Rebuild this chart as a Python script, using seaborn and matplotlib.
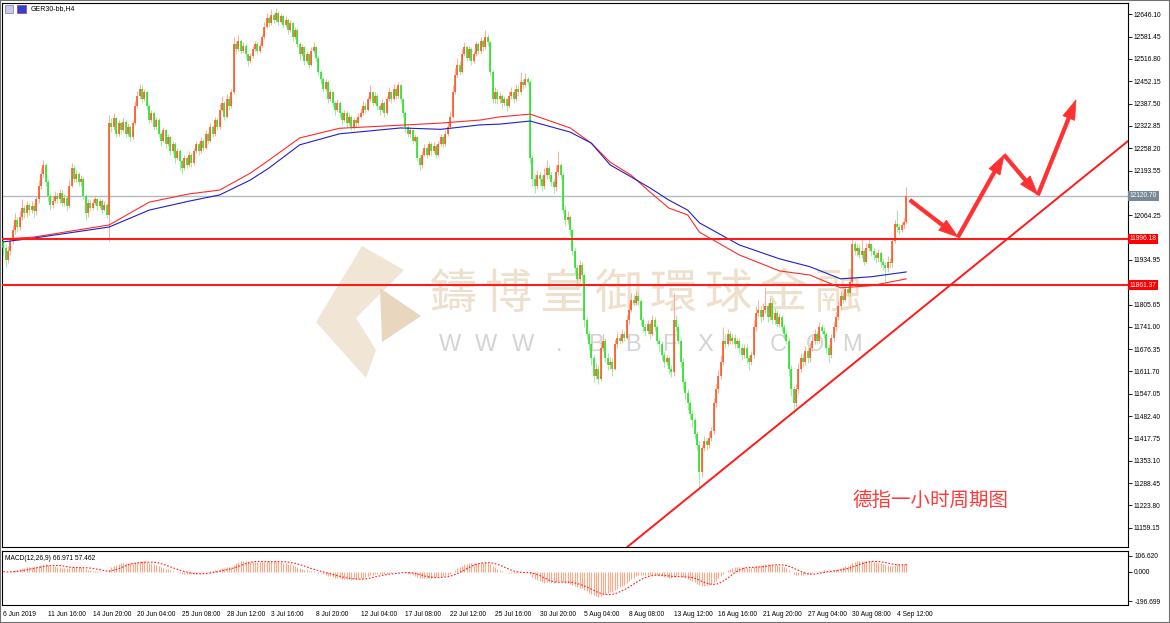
import matplotlib
matplotlib.use('Agg')
import matplotlib.pyplot as plt
import matplotlib.transforms as mtransforms
from matplotlib.patches import Polygon, Rectangle
import numpy as np
import pandas as pd
import seaborn as sns

# ---- GER30 H4 candles, one row per date label (19 bars) ----
first_open = 11990
closes = [
    11970, 11935, 11960, 11990, 12020, 12050, 12030, 12060, 12085, 12070, 12095, 12080, 12090, 12075, 12110, 12150, 12185, 12210, 12160,
    12120, 12095, 12105, 12120, 12110, 12130, 12100, 12115, 12090, 12150, 12200, 12170, 12185, 12160, 12170, 12120, 12070, 12100, 12085,
    12100, 12110, 12090, 12105, 12080, 12095, 12065, 12330, 12320, 12345, 12300, 12330, 12310, 12335, 12300, 12320, 12290, 12330, 12380,
    12410, 12430, 12400, 12420, 12380, 12340, 12360, 12320, 12340, 12300, 12280, 12310, 12270, 12290, 12250, 12270, 12230, 12250, 12220,
    12200, 12230, 12210, 12240, 12215, 12250, 12270, 12250, 12280, 12260, 12300, 12280, 12320, 12300, 12340, 12320, 12370, 12390, 12350,
    12400, 12380, 12420, 12560, 12545, 12570, 12540, 12555, 12530, 12510, 12525, 12545, 12560, 12540, 12555, 12580, 12610, 12635, 12620,
    12645, 12630, 12650, 12625, 12640, 12615, 12630, 12600, 12620, 12580, 12600, 12560, 12530, 12550, 12510, 12530, 12500, 12540, 12550,
    12520, 12480, 12460, 12430, 12450, 12400, 12420, 12390, 12370, 12390, 12360, 12340, 12360, 12330, 12350, 12320, 12340, 12330, 12350,
    12360, 12380, 12370, 12400, 12420, 12390, 12410, 12380, 12370, 12390, 12360, 12400, 12420, 12400, 12430, 12410, 12440, 12400, 12360,
    12320, 12300, 12310, 12280, 12290, 12230, 12210, 12240, 12260, 12240, 12270, 12250, 12265, 12240, 12270, 12290, 12270, 12300, 12320,
    12350, 12420, 12470, 12500, 12480, 12530, 12550, 12520, 12545, 12510, 12530, 12560, 12540, 12570, 12550, 12580, 12565, 12480, 12400,
    12420, 12400, 12410, 12390, 12400, 12380, 12410, 12420, 12400, 12430, 12420, 12450, 12440, 12460, 12450, 12230, 12170, 12150, 12180,
    12170, 12150, 12180, 12200, 12180, 12160, 12145, 12190, 12210, 12180, 12080, 12050, 12060, 12020, 11960, 11910, 11880, 11920, 11890,
    11760, 11720, 11690, 11650, 11600, 11620, 11590, 11680, 11700, 11650, 11630, 11640, 11620, 11690, 11710, 11700, 11720, 11710, 11760,
    11790, 11820, 11810, 11830, 11815, 11760, 11740, 11730, 11750, 11720, 11760, 11740, 11700, 11690, 11660, 11640, 11650, 11620, 11610,
    11760, 11740, 11700, 11640, 11580, 11550, 11520, 11490, 11470, 11430, 11400, 11320, 11390, 11410, 11400, 11420, 11440, 11520, 11560,
    11600, 11640, 11700, 11690, 11720, 11700, 11710, 11690, 11700, 11680, 11660, 11680, 11650, 11640, 11660, 11740, 11780, 11790, 11770,
    11790, 11800, 11770, 11810, 11760, 11780, 11750, 11770, 11740, 11720, 11700, 11620, 11560, 11520, 11560, 11620, 11650, 11640, 11670,
    11650, 11680, 11700, 11720, 11700, 11740, 11730, 11720, 11680, 11660, 11710, 11740, 11770, 11800, 11830, 11820, 11850, 11840, 11870,
    11980, 11960, 11970, 11950, 11960, 11930, 11970, 11980, 11960, 11950, 11940, 11955, 11930, 11920, 11910, 11930, 11925, 11990, 12040,
    12030, 12020, 12035, 12045, 12121,
]
highs = [
    12005, 11980, 11975, 12000, 12035, 12070, 12060, 12075, 12110, 12095, 12105, 12100, 12105, 12100, 12120, 12165, 12200, 12225, 12215,
    12170, 12130, 12120, 12135, 12130, 12140, 12140, 12125, 12120, 12165, 12215, 12210, 12195, 12190, 12180, 12175, 12125, 12110, 12110,
    12110, 12120, 12115, 12115, 12110, 12105, 12100, 12355, 12345, 12360, 12350, 12340, 12335, 12345, 12340, 12330, 12325, 12340, 12395,
    12425, 12445, 12440, 12430, 12425, 12385, 12370, 12365, 12350, 12345, 12305, 12320, 12315, 12300, 12295, 12280, 12275, 12260, 12255,
    12225, 12240, 12235, 12250, 12245, 12260, 12280, 12275, 12290, 12285, 12310, 12305, 12330, 12325, 12350, 12345, 12385, 12410, 12395,
    12415, 12410, 12430, 12580, 12570, 12585, 12575, 12565, 12560, 12535, 12535, 12555, 12570, 12565, 12565, 12590, 12625, 12650, 12640,
    12660, 12650, 12665, 12655, 12650, 12645, 12640, 12635, 12630, 12625, 12610, 12605, 12565, 12560, 12555, 12540, 12535, 12550, 12565,
    12555, 12525, 12485, 12465, 12460, 12455, 12430, 12425, 12395, 12400, 12395, 12365, 12370, 12365, 12360, 12355, 12350, 12345, 12360,
    12375, 12395, 12390, 12410, 12440, 12425, 12420, 12415, 12385, 12400, 12395, 12410, 12435, 12425, 12445, 12435, 12450, 12445, 12405,
    12365, 12325, 12320, 12315, 12300, 12295, 12240, 12250, 12270, 12265, 12280, 12275, 12275, 12270, 12280, 12300, 12295, 12310, 12335,
    12365, 12440, 12490, 12520, 12510, 12545, 12565, 12555, 12555, 12550, 12540, 12570, 12565, 12580, 12575, 12600, 12590, 12570, 12485,
    12435, 12430, 12420, 12415, 12410, 12405, 12425, 12435, 12430, 12445, 12440, 12480, 12460, 12475, 12465, 12460, 12240, 12185, 12195,
    12190, 12180, 12200, 12225, 12210, 12190, 12170, 12210, 12250, 12215, 12190, 12090, 12075, 12065, 12025, 11970, 11920, 11935, 11930,
    11895, 11770, 11730, 11700, 11660, 11635, 11630, 11700, 11720, 11710, 11665, 11655, 11650, 11705, 11725, 11720, 11735, 11730, 11775,
    11810, 11840, 11835, 11845, 11840, 11820, 11770, 11750, 11760, 11755, 11775, 11770, 11745, 11710, 11700, 11670, 11660, 11655, 11630,
    11840, 11775, 11750, 11710, 11650, 11590, 11560, 11530, 11500, 11480, 11440, 11410, 11400, 11425, 11420, 11435, 11450, 11535, 11575,
    11615, 11660, 11740, 11720, 11735, 11730, 11720, 11720, 11710, 11710, 11690, 11690, 11690, 11660, 11670, 11760, 11800, 11820, 11800,
    11810, 11855, 11810, 11825, 11820, 11795, 11790, 11780, 11775, 11750, 11730, 11710, 11630, 11570, 11575, 11635, 11665, 11665, 11685,
    11680, 11695, 11715, 11735, 11730, 11755, 11750, 11740, 11725, 11690, 11720, 11755, 11785, 11815, 11845, 11840, 11865, 11860, 11880,
    11995, 11990, 11985, 11980, 11995, 11965, 11985, 11995, 11985, 11970, 11960, 11965, 11960, 11940, 11930, 11945, 11940, 12000, 12050,
    12080, 12040, 12045, 12055, 12145,
]
lows = [
    11945, 11915, 11925, 11950, 11980, 12010, 12015, 12020, 12050, 12055, 12060, 12065, 12070, 12060, 12065, 12100, 12140, 12175, 12150,
    12105, 12080, 12085, 12100, 12100, 12100, 12090, 12090, 12075, 12085, 12145, 12160, 12160, 12150, 12150, 12110, 12050, 12060, 12075,
    12080, 12095, 12080, 12085, 12070, 12075, 12055, 11990, 12305, 12310, 12290, 12295, 12300, 12305, 12290, 12295, 12280, 12285, 12325,
    12375, 12400, 12390, 12395, 12370, 12330, 12335, 12310, 12315, 12290, 12265, 12275, 12260, 12265, 12240, 12245, 12215, 12225, 12195,
    12185, 12195, 12200, 12205, 12205, 12210, 12245, 12240, 12245, 12250, 12255, 12270, 12275, 12290, 12295, 12310, 12315, 12365, 12340,
    12345, 12370, 12375, 12415, 12530, 12540, 12530, 12535, 12520, 12495, 12505, 12520, 12540, 12530, 12535, 12550, 12575, 12605, 12610,
    12615, 12620, 12625, 12615, 12620, 12605, 12610, 12590, 12595, 12570, 12575, 12550, 12515, 12525, 12500, 12505, 12490, 12495, 12535,
    12510, 12470, 12445, 12420, 12425, 12390, 12395, 12380, 12355, 12365, 12350, 12325, 12335, 12320, 12325, 12310, 12315, 12320, 12325,
    12345, 12355, 12360, 12365, 12395, 12380, 12385, 12370, 12355, 12365, 12350, 12355, 12395, 12390, 12395, 12400, 12405, 12390, 12350,
    12305, 12290, 12290, 12270, 12275, 12220, 12195, 12200, 12235, 12230, 12235, 12240, 12245, 12230, 12235, 12265, 12260, 12265, 12295,
    12315, 12345, 12415, 12465, 12470, 12475, 12525, 12510, 12515, 12500, 12505, 12525, 12530, 12535, 12540, 12545, 12555, 12470, 12390,
    12390, 12385, 12390, 12375, 12380, 12365, 12375, 12400, 12390, 12395, 12410, 12415, 12430, 12435, 12440, 12215, 12150, 12130, 12140,
    12150, 12135, 12140, 12170, 12170, 12150, 12130, 12135, 12180, 12170, 12070, 12035, 12040, 12005, 11950, 11895, 11860, 11870, 11870,
    11740, 11705, 11675, 11630, 11580, 11590, 11575, 11585, 11670, 11640, 11615, 11620, 11600, 11615, 11680, 11690, 11695, 11700, 11705,
    11750, 11785, 11800, 11805, 11805, 11745, 11725, 11715, 11720, 11705, 11715, 11730, 11690, 11670, 11645, 11625, 11630, 11605, 11595,
    11600, 11730, 11690, 11625, 11560, 11530, 11500, 11475, 11450, 11415, 11385, 11270, 11305, 11380, 11385, 11390, 11410, 11430, 11510,
    11550, 11590, 11630, 11680, 11685, 11690, 11690, 11680, 11680, 11665, 11645, 11650, 11635, 11615, 11630, 11650, 11730, 11770, 11755,
    11760, 11780, 11755, 11760, 11750, 11750, 11740, 11740, 11730, 11705, 11690, 11600, 11540, 11490, 11510, 11550, 11610, 11625, 11630,
    11635, 11640, 11670, 11690, 11690, 11695, 11720, 11705, 11665, 11640, 11650, 11700, 11730, 11760, 11790, 11810, 11815, 11830, 11830,
    11860, 11950, 11945, 11940, 11940, 11920, 11925, 11960, 11945, 11935, 11925, 11930, 11915, 11905, 11870, 11900, 11910, 11915, 11985,
    12015, 12010, 12015, 12025, 12040,
]

# moving averages (bar index -> price)
ma_bars = [0, 13, 45, 62, 79, 92, 105, 113, 126, 143, 169, 186, 203, 211, 224, 241, 250,
           258, 267, 275, 283, 291, 296, 313, 330, 343, 356, 369, 384]
ma_red = [11995, 12001, 12036, 12102, 12126, 12137, 12186, 12224, 12288, 12316, 12325, 12331,
          12340, 12349, 12357, 12317, 12273, 12218, 12180, 12131, 12085, 12065, 12015, 11949,
          11903, 11891, 11854, 11860, 11880]
ma_blue = [11987, 11998, 12030, 12079, 12105, 12123, 12166, 12201, 12268, 12300, 12317, 12313,
           12326, 12328, 12337, 12305, 12273, 12210, 12175, 12143, 12108, 12079, 12042, 11978,
           11938, 11915, 11880, 11886, 11900]

# horizontal levels, trend line and projected path
bid_price = 12120.70
levels = [11996.18, 11861.37]
trend_bars = [265.2, 478.2]
trend_prices = [11103, 12279]
plan_bars = [385.5, 405.9, 425.5, 439.9, 456.1]
plan_prices = [12108, 12001, 12239, 12123, 12398]

price_ticks = [12646.10, 12581.45, 12516.80, 12452.15, 12387.50, 12322.85, 12258.20, 12193.55,
               12128.90, 12064.25, 11999.60, 11934.95, 11870.30, 11805.65, 11741.00, 11676.35,
               11611.70, 11547.05, 11482.40, 11417.75, 11353.10, 11288.45, 11223.80, 11159.15]
hidden_ticks = [12128.90, 11999.60, 11870.30]   # covered by the boxed price labels
date_ticks = [0, 19, 38, 57, 76, 95, 114, 133, 152, 171, 190, 209, 228, 247, 266, 285, 304, 323, 342, 361, 380]
date_labels = ['6 Jun 2019', '11 Jun 16:00', '14 Jun 20:00', '20 Jun 04:00', '25 Jun 08:00',
               '28 Jun 12:00', '3 Jul 16:00', '8 Jul 20:00', '12 Jul 04:00', '17 Jul 08:00',
               '22 Jul 12:00', '25 Jul 16:00', '30 Jul 20:00', '5 Aug 04:00', '8 Aug 08:00',
               '13 Aug 12:00', '16 Aug 16:00', '21 Aug 20:00', '27 Aug 04:00', '30 Aug 08:00',
               '4 Sep 12:00']
macd_ticks = [106.620, 0.0, -196.699]

sns.set_theme(style='white')
plt.rcParams['font.family'] = ['Liberation Sans', 'DejaVu Sans']

n = len(closes)
assert len(highs) == n and len(lows) == n
df = pd.DataFrame({'bar': np.arange(n), 'open': [first_open] + closes[:-1],
                   'high': highs, 'low': lows, 'close': closes})
df['up'] = df.close >= df.open

W, H = 1170, 623
def fbox(x0, y0, x1, y1):
    return [x0 / W, 1 - y1 / H, (x1 - x0) / W, (y1 - y0) / H]

def fpt(x, y):
    return x / W, 1 - y / H

fig = plt.figure(figsize=(11.7, 6.23), dpi=100)
ax = fig.add_axes(fbox(2, 3, 1128, 547))
axm = fig.add_axes(fbox(2, 551, 1128, 605))

# watermark (behind everything)
logo_light = [(362, 246), (404, 270), (356, 318), (376, 350), (366, 378), (316, 322)]
logo_dark = [(380, 288), (421, 316), (382, 342)]
ax.add_patch(Polygon([fpt(*p) for p in logo_light], closed=True, transform=fig.transFigure,
                     fc='#f1e5d5', ec='none', zorder=0.5))
ax.add_patch(Polygon([fpt(*p) for p in logo_dark], closed=True, transform=fig.transFigure,
                     fc='#e8d6be', ec='none', zorder=0.5))
for k, ch in enumerate('鑄博皇御環球金融'):
    x, y = fpt(453 + 55 * k, 295)
    ax.text(x, y, ch, transform=fig.transFigure, fontsize=34, color='#eee0cc',
            family=['Noto Sans CJK TC'], ha='center', va='center', zorder=0.6)
for k, ch in enumerate('WWW.BBFX.COM'):
    x, y = fpt(450 + 36.5 * k, 345)
    ax.text(x, y, ch, transform=fig.transFigure, fontsize=17, color='#d4d4d4',
            ha='center', va='center', zorder=0.6)

# candles
for is_up, body_c, wick_c in [(True, '#ff4a10', '#ffa088'), (False, '#18e018', '#8cee8c')]:
    d = df[df.up == is_up]
    ax.vlines(d.bar, d.low, d.high, color=wick_c, lw=0.6, zorder=3)
    bot = np.minimum(d.open, d.close)
    top = np.maximum(np.maximum(d.open, d.close), bot + 4)
    ax.vlines(d.bar, bot, top, color=body_c, lw=1.1, zorder=4)

# moving averages
sns.lineplot(x=ma_bars, y=ma_red, ax=ax, color='#ff2a2a', lw=0.8, zorder=5)
sns.lineplot(x=ma_bars, y=ma_blue, ax=ax, color='#2020c8', lw=0.8, zorder=5)

# levels and trend
ax.axhline(bid_price, color='#b4bac2', lw=1.0, zorder=2)
for lv in levels:
    ax.axhline(lv, color='#ff1a1a', lw=1.5, zorder=6)
ax.plot(trend_bars, trend_prices, color='#ff1a1a', lw=1.4, zorder=6)
for k in range(len(plan_bars) - 1):
    ax.annotate('', xy=(plan_bars[k + 1], plan_prices[k + 1]), xytext=(plan_bars[k], plan_prices[k]),
                arrowprops=dict(arrowstyle='simple,head_length=1.0,head_width=0.65,tail_width=0.18',
                                mutation_scale=14, fc='#ff3030', ec='#ff3030', lw=0.5,
                                shrinkA=0, shrinkB=0), zorder=8)

ax.text(0.755, 0.085, '德指一小时周期图', transform=ax.transAxes, fontsize=14, color='#ff3a3a',
        family=['Noto Sans CJK SC'], ha='left', va='center', zorder=9)

# axes styling
ax.set_xlim(-0.55, 478.2)
ax.set_ylim(11103.4, 12678.8)
ax.set_xticks([])
ax.yaxis.tick_right()
ax.set_yticks(price_ticks)
ax.set_yticklabels(['' if v in hidden_ticks else '%.2f' % v for v in price_ticks])
ax.tick_params(axis='y', direction='out', length=3, width=0.6, pad=1, labelsize=4.8, colors='black')
for s in ax.spines.values():
    s.set_color('black')
    s.set_linewidth(0.8)

ytrans = mtransforms.blended_transform_factory(ax.transAxes, ax.transData)
box_labels = [(bid_price, '#778899'), (levels[0], '#ff0000'), (levels[1], '#ff0000')]
for val, fc in box_labels:
    ax.text(1.0015, val, '%.2f' % val, transform=ytrans, fontsize=4.8, color='white',
            ha='left', va='center', clip_on=False, zorder=10,
            bbox=dict(boxstyle='square,pad=0.25', fc=fc, ec='none'))

ax.text(*fpt(31, 9), 'GER30-bb,H4', transform=fig.transFigure, fontsize=5, color='black',
        ha='left', va='center')
ax.add_patch(Rectangle(fpt(5, 13), 8 / W, 8 / H, transform=fig.transFigure, fc='#c8c8e8',
                       ec='#6060a0', lw=0.4, clip_on=False))
ax.add_patch(Rectangle(fpt(17, 13), 9 / W, 8 / H, transform=fig.transFigure, fc='#3040d0',
                       ec='#c02020', lw=0.4, clip_on=False))

# MACD sub window
close_s = pd.Series(closes, dtype=float)
macd = close_s.ewm(span=12, adjust=False).mean() - close_s.ewm(span=26, adjust=False).mean()
signal = macd.rolling(9, min_periods=1).mean()
axm.vlines(df.bar, 0, macd, color='#ffa888', lw=0.8, zorder=2)
sns.lineplot(x=df.bar, y=signal, ax=axm, color='#ff2020', lw=0.8, linestyle=(0, (1.5, 1.5)), zorder=3)
axm.set_xlim(-0.55, 478.2)
axm.set_ylim(-223, 138)
axm.set_xlabel('')
axm.set_ylabel('')
axm.yaxis.tick_right()
axm.set_yticks(macd_ticks)
axm.set_yticklabels(['106.620', '0.000', '-196.699'])
axm.set_xticks(date_ticks)
axm.set_xticklabels(date_labels)
for lbl in axm.get_xticklabels():
    lbl.set_horizontalalignment('left')
axm.tick_params(axis='both', direction='out', length=3, width=0.6, pad=1.5, labelsize=4.8, colors='black')
for s in axm.spines.values():
    s.set_color('black')
    s.set_linewidth(0.8)
axm.text(0.003, 0.86, 'MACD(12,26,9) 66.971 57.462', transform=axm.transAxes, fontsize=4.8,
         color='black', ha='left', va='center')

fig.patches.append(Rectangle((0, 0), 1, 1, transform=fig.transFigure, fill=False,
                             ec='#707070', lw=1.5))

fig.savefig('out.png', dpi=100)
